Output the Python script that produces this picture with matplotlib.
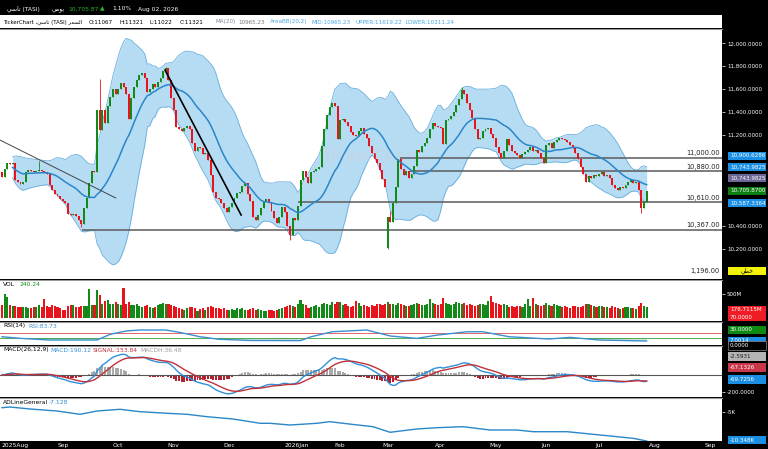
import numpy as np
import pandas as pd
import matplotlib
matplotlib.use("Agg")
import matplotlib.pyplot as plt
from matplotlib.patches import Rectangle

W, H = 768, 449

# month ticks (trading-day counts per month, Aug 2025 .. Sep 2026)
months = ["2025Aug", "Sep", "Oct", "Nov", "Dec", "2026Jan", "Feb", "Mar",
          "Apr", "May", "Jun", "Jul", "Aug", "Sep"]
month_len = [23, 21, 21, 21, 21, 21, 18, 20, 21, 19, 20, 21, 21, 21]

# daily closes
close_aug = [10830, 10900, 10950, 10940, 10950, 10800, 10790, 10770, 10790, 10870, 10890, 10880,
             10870, 10880, 10890, 10880, 10870, 10860, 10760, 10720, 10680, 10660, 10640]
close_sep = [10620, 10600, 10510, 10500, 10510, 10490, 10450, 10420, 10560, 10650, 10780, 10880,
             10870, 11420, 11240, 11420, 11300, 11450, 11530, 11600, 11560]
close_oct = [11600, 11650, 11620, 11560, 11340, 11520, 11620, 11680, 11720, 11740, 11700, 11570,
             11600, 11640, 11620, 11660, 11700, 11760, 11780, 11680, 11520]
close_nov = [11420, 11270, 11250, 11230, 11260, 11280, 11250, 11130, 11060, 11090, 11080, 11030,
             11040, 10980, 10850, 10700, 10650, 10640, 10600, 10560, 10520]
close_dec = [10570, 10600, 10650, 10690, 10700, 10750, 10780, 10680, 10620, 10480, 10450, 10500,
             10560, 10620, 10640, 10600, 10530, 10470, 10430, 10480, 10570]
close_jan = [10520, 10400, 10320, 10470, 10450, 10580, 10800, 10880, 10830, 10780, 10870, 10880,
             10900, 10920, 11100, 11250, 11370, 11440, 11480, 11450, 11160]
close_feb = [11330, 11340, 11310, 11280, 11220, 11200, 11190, 11230, 11260, 11210, 11170, 11100,
             11040, 10990, 10950, 10890, 10810, 10740]
close_mar = [10480, 10440, 10600, 10740, 10990, 10900, 10850, 10880, 10820, 10860, 10930, 11070,
             11050, 11100, 11130, 11170, 11250, 11300, 11280, 11270]
close_apr = [11260, 11120, 11330, 11340, 11360, 11400, 11460, 11510, 11590, 11560, 11480, 11420,
             11350, 11250, 11160, 11170, 11230, 11250, 11260, 11210, 11170]
close_may = [11090, 11040, 11000, 11060, 11160, 11110, 11060, 11040, 11020, 11000, 11030, 11050,
             11070, 11090, 11060, 11070, 11040, 11000, 10950]
close_jun = [11110, 11130, 11080, 11140, 11150, 11170, 11160, 11150, 11140, 11110, 11080, 11040,
             10990, 10920, 10860, 10790, 10840, 10820, 10850, 10840]
close_jul = [10860, 10870, 10840, 10850, 10820, 10760, 10730, 10720, 10740, 10730, 10760, 10790,
             10800, 10780, 10790, 10720, 10560, 10610, 10705.87]

first_open = 10870
open_fix = {146: 10210}
wick_hi = {14: 10970, 37: 11690, 62: 11790, 146: 10480, 147: 10530, 174: 11620}
wick_lo = {30: 10390, 109: 10280, 146: 10200, 242: 10515}

# volume in millions
vol_aug = [270, 500, 440, 280, 250, 245, 235, 240, 225, 230, 215, 210, 225, 240, 270, 235, 390, 250,
           240, 270, 255, 225, 220]
vol_sep = [180, 175, 260, 280, 270, 235, 240, 250, 245, 250, 600, 280, 270, 590, 480, 290, 350, 380,
           300, 290, 330]
vol_oct = [300, 270, 620, 300, 330, 280, 270, 290, 260, 230, 250, 270, 240, 220, 230, 280, 300, 310,
           290, 300, 280]
vol_nov = [250, 240, 210, 200, 180, 210, 240, 230, 220, 160, 190, 210, 170, 230, 260, 240, 220, 215,
           200, 210, 180]
vol_dec = [180, 200, 170, 210, 190, 220, 180, 175, 190, 210, 180, 190, 170, 160, 150, 170, 180, 160,
           175, 190, 220]
vol_jan = [230, 260, 280, 250, 240, 300, 380, 300, 270, 220, 240, 250, 270, 240, 300, 310, 290, 280,
           330, 300, 330]
vol_feb = [340, 280, 300, 260, 240, 250, 360, 320, 260, 270, 250, 240, 280, 260, 290, 300, 270, 290]
vol_mar = [330, 290, 300, 270, 320, 300, 280, 260, 250, 280, 300, 320, 290, 270, 280, 300, 390, 310,
           290, 280]
vol_apr = [300, 420, 310, 290, 280, 300, 330, 320, 290, 310, 280, 300, 270, 260, 280, 300, 290, 280,
           350, 460, 330]
vol_may = [320, 300, 280, 290, 270, 240, 250, 230, 260, 250, 240, 300, 390, 260, 410, 300, 270, 260,
           280]
vol_jun = [310, 280, 260, 290, 270, 250, 240, 260, 230, 220, 250, 260, 240, 230, 250, 300, 290, 270,
           250, 240]
vol_jul = [260, 250, 230, 240, 220, 250, 230, 210, 200, 220, 240, 230, 210, 220, 200, 250, 320, 260,
           240]

# RSI and A/D line, read at key candles
rsi_idx = [0, 7, 18, 36, 41, 47, 52, 62, 67, 75, 82, 94, 113, 117, 125, 138, 147, 157, 165, 176,
           182, 192, 207, 215, 226, 244]
rsi_val = [40, 27, 14, 14, 60, 86, 94, 94, 76, 40, 20, 10, 9, 40, 80, 94, 46, 27, 54, 80, 80, 40,
           22, 35, 14, 6]
ad_idx = [0, 3, 10.6, 20.8, 29.5, 36, 44.7, 52.2, 62.5, 70, 77.6, 87.4, 93.9, 97.7, 101.4, 109,
          119.2, 124.1, 131.7, 140.4, 146.9, 157, 164.6, 174.5, 184.7, 194.9, 201, 213.9, 222.6,
          232.8, 238.8, 244]
ad_val = [-4150, -4010, -4406, -4802, -5455, -4802, -4466, -4940, -5257, -5455, -5930, -6386,
          -6920, -7237, -7237, -7574, -7237, -6920, -7396, -7911, -9019, -8366, -8108, -7911,
          -8564, -8564, -8900, -8900, -9356, -9890, -10207, -10740]

# drawn levels and trend lines
levels = [11000, 10880, 10610, 10367]
level_start = [150.6, 154.4, 112, 30.3]
trend_lines = [((-0.8, 11154), (43.1, 10646), 0.7, "#444444"),
               ((61.7, 11766), (90.5, 10498), 1.2, "black")]

closes = np.array(close_aug + close_sep + close_oct + close_nov + close_dec + close_jan + close_feb
                  + close_mar + close_apr + close_may + close_jun + close_jul, dtype=float)
vols = np.array(vol_aug + vol_sep + vol_oct + vol_nov + vol_dec + vol_jan + vol_feb + vol_mar
                + vol_apr + vol_may + vol_jun + vol_jul, dtype=float)
n = len(closes)
idx = np.arange(n)
opens = np.concatenate([[first_open], closes[:-1]])
for k, v in open_fix.items():
    opens[k] = v
highs = np.maximum(opens, closes)
lows = np.minimum(opens, closes)
for k, v in wick_hi.items():
    highs[k] = v
for k, v in wick_lo.items():
    lows[k] = v

GREEN = "#138a18"
RED = "#e8141c"
up = closes >= opens
cols = np.where(up, GREEN, RED)

s = pd.Series(closes)
mid = s.rolling(20, min_periods=5).mean()
sd = s.rolling(20, min_periods=5).std(ddof=0)
bb_up = mid + 2 * sd
bb_lo = mid - 2 * sd
ema12 = s.ewm(span=12, adjust=False).mean()
ema26 = s.ewm(span=26, adjust=False).mean()
macd = ema12 - ema26
signal = macd.ewm(span=9, adjust=False).mean()
hist = macd - signal

ticks = np.cumsum([0] + month_len[:-1])

plt.rcParams["font.family"] = ["DejaVu Sans"]
fig = plt.figure(figsize=(W / 100, H / 100), dpi=100, facecolor="black")


def box(y0, y1, x0=0, x1=722):
    return [x0 / W, 1 - y1 / H, (x1 - x0) / W, (y1 - y0) / H]


def put(x, y, txt, color="black", size=4.3, ha="left"):
    fig.text(x / W, 1 - y / H, txt, color=color, fontsize=size, ha=ha, va="center")


def tag(y0, y1, txt, fc, tc="white", ec="none", ha="left"):
    fig.add_artist(Rectangle((728 / W, 1 - y1 / H), 38 / W, (y1 - y0) / H, transform=fig.transFigure,
                             fc=fc, ec=ec, lw=0.5))
    xx = 730 if ha == "left" else 747
    put(xx, (y0 + y1) / 2, txt, tc, 4.1, ha)


XMIN, XMAX = -2 / 2.642, 720 / 2.642


def style(a):
    a.set_facecolor("white")
    for sp in ["left", "bottom", "right"]:
        a.spines[sp].set_visible(False)
    a.spines["top"].set_color("#9a9a9a")
    a.spines["top"].set_linewidth(0.8)
    a.set_xlim(XMIN, XMAX)
    a.tick_params(axis="x", bottom=False, labelbottom=False)
    a.yaxis.tick_right()
    a.tick_params(axis="y", colors="white", labelsize=4, length=2, width=0.5, pad=1.5)


# white info row
fig.add_artist(Rectangle((0, 1 - 28 / H), 722 / W, 13 / H, transform=fig.transFigure,
                         fc="white", ec="none"))

# price panel
ax = fig.add_axes(box(29, 279))
style(ax)
ax.set_ylim(9938, 12125)
ax.set_yticks([10200, 10400, 11200, 11400, 11600, 11800, 12000])
ax.set_yticklabels([f"{v:,.4f}" for v in [10200, 10400, 11200, 11400, 11600, 11800, 12000]])
ax.fill_between(idx, bb_lo, bb_up, color="#b6dcf4", lw=0, zorder=1)
ax.plot(idx, bb_up, color="#6aaedc", lw=0.6, zorder=1)
ax.plot(idx, bb_lo, color="#6aaedc", lw=0.6, zorder=1)
ax.text(0.515, 0.49, "TickerChart", transform=ax.transAxes, fontsize=11, fontweight="bold",
        color="#c4d2e2", alpha=0.6, ha="center", va="center", zorder=2)
ax.hlines(levels, level_start, XMAX, color="#5a5a5a", lw=1.1, zorder=2)
for lv in levels:
    ax.text(XMAX - 0.8, lv + 14, f"{lv:,.2f}", fontsize=4.8, color="#222222", ha="right",
            va="bottom", zorder=6)
ax.text(XMAX - 0.8, 10010, "1,196.00", fontsize=4.8, color="#222222", ha="right", va="center")
ax.vlines(idx, lows, highs, color=cols, lw=0.6, zorder=3)
ax.bar(idx, np.maximum(np.abs(closes - opens), 6), bottom=np.minimum(opens, closes), width=0.74,
       color=cols, lw=0, zorder=3)
ax.plot(idx, mid, color="#2a86c8", lw=1.1, zorder=4)
for (x0, y0), (x1, y1), lw, c in trend_lines:
    ax.plot([x0, x1], [y0, y1], color=c, lw=lw, zorder=5)

# volume
axv = fig.add_axes(box(280, 321))
style(axv)
axv.bar(idx, vols, width=0.8, color=cols, lw=0)
axv.set_ylim(-55, 788)
axv.set_yticks([500])
axv.set_yticklabels(["500M"])

# RSI
axr = fig.add_axes(box(322, 345))
style(axr)
axr.set_ylim(-26, 158)
axr.set_yticks([])
rv = np.array(rsi_val, dtype=float)
axr.fill_between(rsi_idx, rv, 30, where=rv < 30, interpolate=True, color="#cfe8cf", lw=0)
axr.axhline(70, color="#e05050", lw=0.6)
axr.axhline(30, color="#3aa03a", lw=0.6)
axr.plot(rsi_idx, rv, color="#3a8fd0", lw=1.0)

# MACD
axm = fig.add_axes(box(346, 397))
style(axm)
axm.set_ylim(-259, 341)
axm.bar(idx, hist, width=0.74, color=np.where(hist >= 0, "#a9a9a9", "#b0202e"), lw=0)
axm.axhline(0, color="#555555", lw=0.8)
axm.plot(idx, macd, color="#2f8fd8", lw=1.0)
axm.plot(idx, signal, color="#c0303a", lw=1.0)
axm.set_yticks([-200])
axm.set_yticklabels(["-200.0000"])

# A/D line
axa = fig.add_axes(box(398, 441))
style(axa)
axa.set_ylim(-10742, -2228)
axa.plot(ad_idx, ad_val, color="#2a86c8", lw=1.0)
axa.set_yticks([-5000])
axa.set_yticklabels(["-5K"])

# date strip
axx = fig.add_axes(box(441, 449, 0, 768))
axx.set_facecolor("black")
axx.set_xlim(XMIN, (766) / 2.642)
axx.set_ylim(0, 1)
axx.axis("off")
for t, m in zip(ticks, months):
    axx.text(t, 0.45, m, color="white", fontsize=4.3, ha="left" if m[0] == "2" else "center",
             va="center")

# header
put(7, 9, "ﻲﺳﺎﺗ (TASI)", "white")
put(52, 9, "ﻲﻣﻮﻳ", "white")
put(68, 9, "10,705.87", "#2fb52f")
put(100, 9, "▲", "#2fb52f")
put(112, 9, "1.10%", "white")
put(138, 9, "Aug 02, 2026", "white")

put(3, 22, "TickerChart ,ﻲﺳﺎﺗ (TASI) ﺮﻌﺴﻟﺍ", size=3.9)
put(89, 22, "O:11067", size=4.1)
put(119, 22, "H:11321", size=4.1)
put(150, 22, "L:11022", size=4.1)
put(180, 22, "C:11321", size=4.1)
put(215, 22, "MA(20)", "#7a8aa0", 4.1)
put(238, 22, "10965.23", "#7a7a7a", 4.1)
put(270, 22, "AreaBB(20,2)", "#4aa8e0", 4.1)
put(312, 22, "MID:10965.23", "#4aa8e0", 4.1)
put(355, 22, "UPPER:11619.22", "#4aa8e0", 4.1)
put(406, 22, "LOWER:10311.24", "#4aa8e0", 4.1)

put(3, 284, "VOL")
put(20, 284, "240.24", GREEN)
put(3, 326, "RSI(14)")
put(28, 326, "RSI:83.73", "#3a8fd0")
put(3, 350, "MACD(26,12,9)")
put(50, 350, "MACD:190.12", "#2f8fd8")
put(93, 350, "SIGNAL:153.84", "#c0303a")
put(140, 350, "MACDH:36.48", "#999999")
put(3, 402, "ADLineGeneral")
put(49, 402, "-7.128", "#2f8fd8")

# value tags on the right scale
BLUE = "#1a8fe3"
tag(151.5, 159.5, "10,900.6286", BLUE)
tag(163, 171, "10,743.9825", BLUE)
tag(174, 182, "10,743.9825", "#6b6796")
tag(186.5, 194.5, "10,705.8700", "#0d7f12")
tag(199, 207, "10,587.3364", BLUE)
tag(267, 275, "ﻲﻄﺧ", "#f2f20a", "black", ha="center")
tag(305.5, 313.5, "176.7115M", "#ee1c24")
tag(313.5, 321, "70.0000", "#ee1c24")
tag(325.5, 333.5, "30.0000", "#0c8a12")
tag(337, 345, "7.0014", BLUE)
tag(341, 350, "0.0000", "black", ec="#888888")
tag(351.5, 360.5, "-2.5931", "#b4b4b4", "#202020")
tag(363, 371.5, "-67.1326", "#c8374a")
tag(375, 383.5, "-69.7256", BLUE)
tag(436, 444, "-10.348K", BLUE)

fig.savefig("out.png", dpi=100, facecolor="black")
